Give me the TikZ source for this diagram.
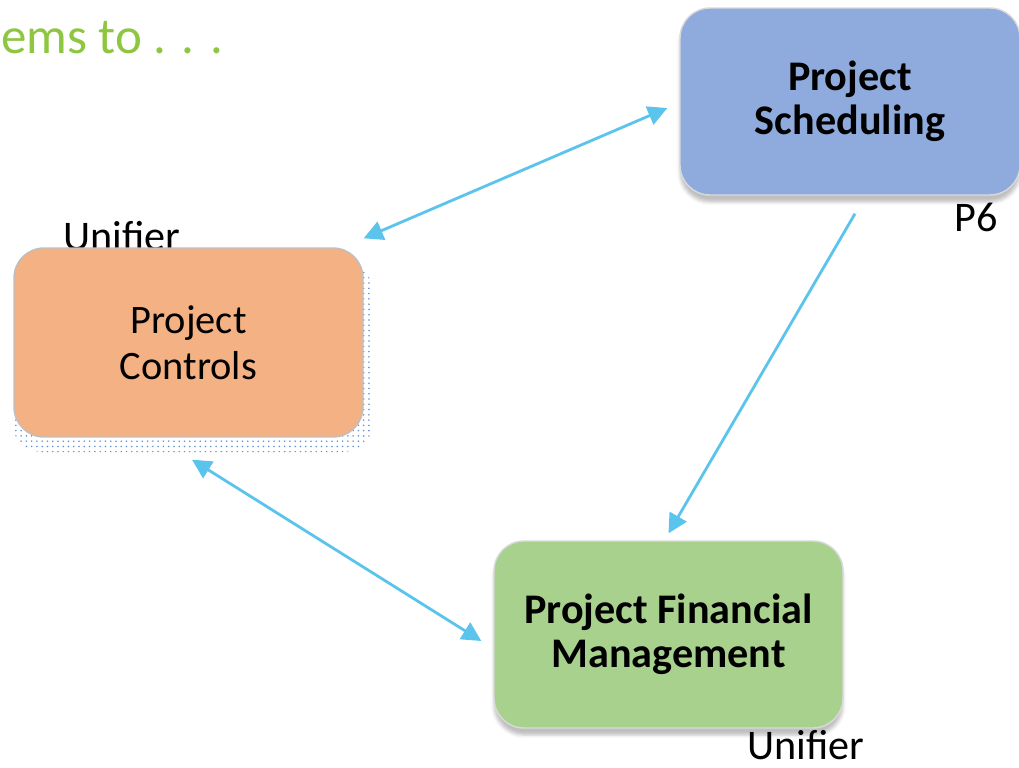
\documentclass[tikz,border=0pt]{standalone}
\usepackage{fontspec}
\setmainfont{Carlito}
\usetikzlibrary{arrows.meta,shadows.blur,patterns}
\definecolor{linkblue}{RGB}{91,196,236}
\definecolor{dotblue}{RGB}{95,145,215}
\definecolor{schedfill}{RGB}{143,170,220}
\definecolor{ctrlfill}{RGB}{244,177,131}
\definecolor{finfill}{RGB}{169,209,142}
\definecolor{leadgreen}{RGB}{141,198,63}
\begin{document}
\begin{tikzpicture}[x=0.02cm,y=-0.02cm,
    box/.style={draw=black!25,line width=0.8pt,rounded corners=17pt,
      minimum width=6.98cm,minimum height=3.78cm,align=center,
      font=\fontsize{23}{26}\selectfont},
    soft/.style={blur shadow={shadow xshift=0pt,shadow yshift=-4pt,shadow opacity=25}},
    tag/.style={anchor=base west,inner sep=0pt,font=\fontsize{24}{28}\selectfont},
    link/.style={draw=linkblue,line width=1.6pt,
      -{Triangle[length=11pt,width=11pt]}}]
  \useasboundingbox (0,0) rectangle (1019,768);
  % leading text and system names
  \node[tag,text=leadgreen,font=\fontsize{29}{34}\selectfont] (lead) at (1,53) {ems to . . .};
  \node[tag] (unitop) at (63,250) {Unifier};
  \node[tag] (p6) at (954,231) {P6};
  \node[tag] (unibot) at (747,759) {Unifier};
  % boxes
  \fill[pattern=dots,pattern color=dotblue,rounded corners=17pt] (12,262) rectangle (373,452);
  \node[box,fill=ctrlfill] (ctrl) at (188.5,342.5) {Project\\Controls};
  \node[box,soft,fill=schedfill,draw=black!15,minimum width=6.8cm,minimum height=3.74cm,
    font=\fontsize{24}{25}\selectfont\bfseries] (sched) at (850,101.5) {Project\\Scheduling};
  \node[box,soft,fill=finfill,draw=black!15,minimum height=3.74cm,
    font=\fontsize{24}{25}\selectfont\bfseries] (fin) at (668.5,634.5) {Project Financial\\Management};
  % links
  \begin{scope}[link]
    \draw[{Triangle[length=11pt,width=11pt]}-{Triangle[length=11pt,width=11pt]}]
      ([shift={(0,-9)}]ctrl.north east) -- ([shift={(-12,6.5)}]sched.west);
    \draw ([shift={(5,18)}]sched.south) -- ([shift={(0,-7)}]fin.north);
    \draw[{Triangle[length=11pt,width=11pt]}-{Triangle[length=11pt,width=11pt]}]
      ([shift={(3.5,22)}]ctrl.south) -- ([shift={(-12,6.5)}]fin.west);
  \end{scope}
\end{tikzpicture}
\end{document}
